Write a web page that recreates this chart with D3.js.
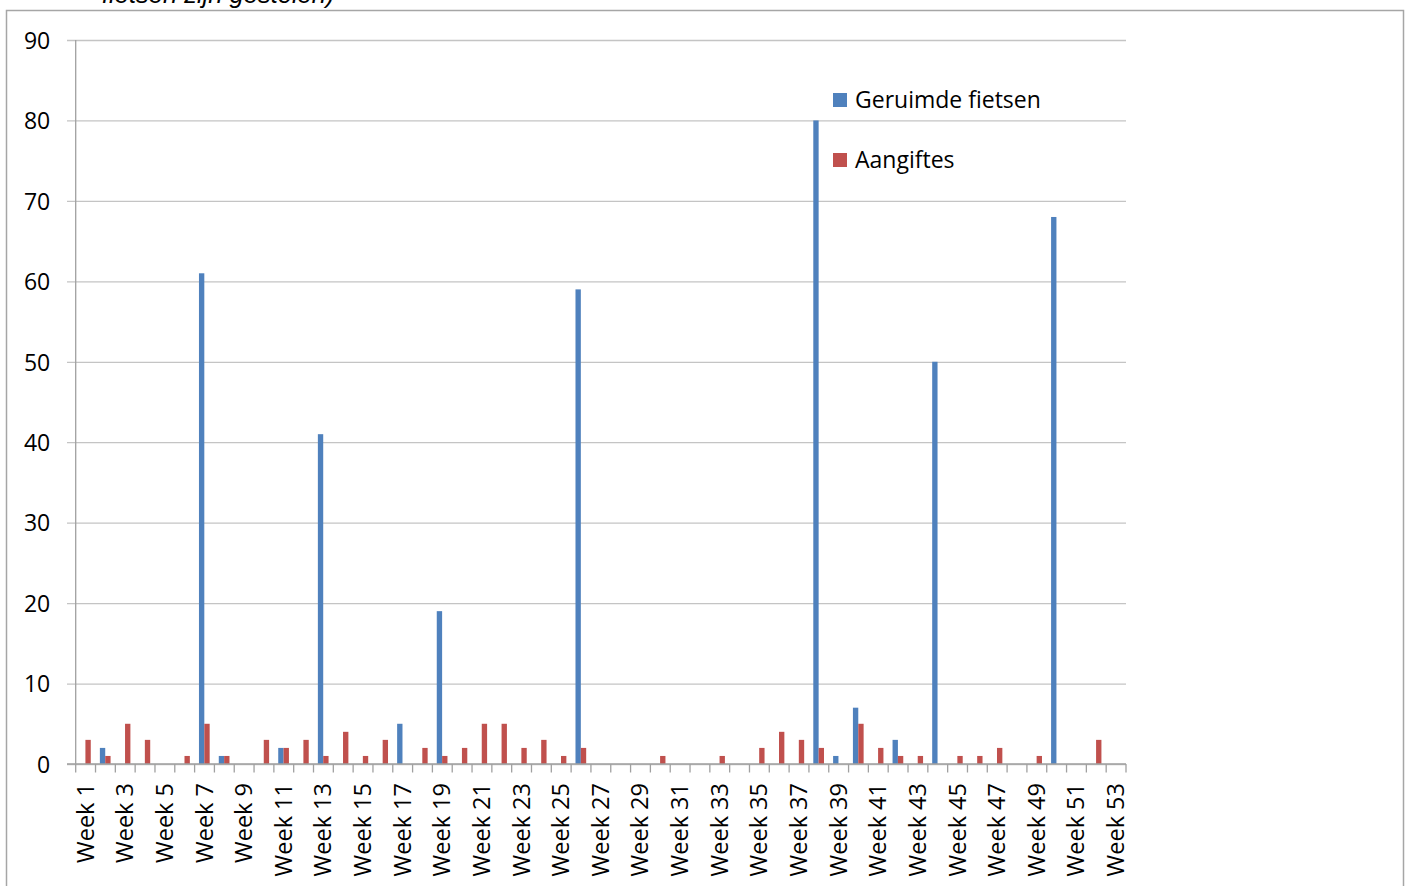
<!DOCTYPE html>
<html>
<head>
<meta charset="utf-8">
<script src="https://cdn.jsdelivr.net/npm/d3@7"></script>
<style>
  html, body { margin: 0; padding: 0; background: #fff; overflow: hidden; }
  text { font-family: "Open Sans", sans-serif; fill: #000; }
</style>
</head>
<body>
<svg id="chart"></svg>
<script>
// data (week 1..53)
const weeks = d3.range(1, 54).map((n) => "Week " + n);
const geruimd = [0, 2, 0, 0, 0, 0, 61, 1, 0, 0, 2, 0, 41, 0, 0, 0, 5, 0, 19, 0,
  0, 0, 0, 0, 0, 59, 0, 0, 0, 0, 0, 0, 0, 0, 0, 0, 0, 80, 1, 7,
  0, 3, 0, 50, 0, 0, 0, 0, 0, 68, 0, 0, 0];
const aangiftes = [3, 1, 5, 3, 0, 1, 5, 1, 0, 3, 2, 3, 1, 4, 1, 3, 0, 2, 1, 2,
  5, 5, 2, 3, 1, 2, 0, 0, 0, 1, 0, 0, 1, 0, 2, 4, 3, 2, 0, 5,
  2, 1, 1, 0, 1, 1, 2, 0, 1, 0, 0, 3, 0];
const seriesNames = ["Geruimde fietsen", "Aangiftes"];
const seriesColors = ["#4f81bd", "#c0504d"];
const yTicks = [0, 10, 20, 30, 40, 50, 60, 70, 80, 90];

const width = 1408;
const height = 886;
const plot = { left: 75.7, right: 1126, top: 40, bottom: 764 };

const svg = d3.select("#chart").attr("width", width).attr("height", height);

// outer chart border (bottom edge falls outside the picture)
svg.append("rect")
  .attr("x", 6.5)
  .attr("y", 10.5)
  .attr("width", 1397)
  .attr("height", 900)
  .attr("fill", "none")
  .attr("stroke", "#a6a6a6")
  .attr("stroke-width", 1.5);

// caption text that sits above the chart, mostly cut off
svg.append("text")
  .attr("x", 102)
  .attr("y", 3)
  .style("font-family", "'Liberation Sans', Arial, sans-serif")
  .style("font-style", "italic")
  .style("font-size", "25.5px")
  .text("fietsen zijn gestolen)");

const x0 = d3.scaleBand()
  .domain(weeks)
  .range([plot.left, plot.right])
  .padding(0);

const x1 = d3.scaleBand()
  .domain(seriesNames)
  .range([x0.bandwidth() * 0.22, x0.bandwidth() * 0.76]);

const y = d3.scaleLinear()
  .domain([0, 90])
  .range([plot.bottom, plot.top]);

// gridlines + y labels
const yAxis = d3.axisLeft(y)
  .tickValues(yTicks)
  .tickSize(-(plot.right - plot.left) - 0)
  .tickPadding(17)
  .tickFormat(d3.format("d"));

const gy = svg.append("g")
  .attr("transform", `translate(${plot.left},0)`)
  .call(yAxis);
gy.select(".domain").remove();
gy.selectAll(".tick line")
  .attr("x1", -8.7)
  .attr("stroke", "#c4c4c4")
  .attr("stroke-width", 1.3);
gy.selectAll(".tick text")
  .style("font-size", "23px")
  .attr("x", -25.5)
  .attr("dy", "0.36em");

// y axis line
svg.append("line")
  .attr("x1", plot.left).attr("x2", plot.left)
  .attr("y1", plot.top).attr("y2", plot.bottom)
  .attr("stroke", "#a0a0a0")
  .attr("stroke-width", 1.3);

// bars
const rows = weeks.map((w, i) => ({ week: w, values: [geruimd[i], aangiftes[i]] }));

svg.append("g")
  .selectAll("g")
  .data(rows)
  .join("g")
  .attr("transform", (d) => `translate(${x0(d.week)},0)`)
  .selectAll("rect")
  .data((d) => d.values.map((v, k) => ({ key: seriesNames[k], value: v, color: seriesColors[k] })))
  .join("rect")
  .attr("x", (d) => x1(d.key))
  .attr("width", x1.bandwidth())
  .attr("y", (d) => y(d.value))
  .attr("height", (d) => y(0) - y(d.value))
  .attr("fill", (d) => d.color);

// x axis line and ticks at category boundaries
svg.append("line")
  .attr("x1", plot.left - 8.7).attr("x2", plot.right)
  .attr("y1", plot.bottom).attr("y2", plot.bottom)
  .attr("stroke", "#a0a0a0")
  .attr("stroke-width", 1.3);

svg.append("g")
  .selectAll("line")
  .data(weeks.concat(["end"]))
  .join("line")
  .attr("x1", (d, i) => plot.left + i * x0.step())
  .attr("x2", (d, i) => plot.left + i * x0.step())
  .attr("y1", plot.bottom)
  .attr("y2", plot.bottom + 8.5)
  .attr("stroke", "#a0a0a0")
  .attr("stroke-width", 1.3);

// x labels, every other week, rotated
svg.append("g")
  .selectAll("text")
  .data(weeks.filter((w, i) => i % 2 === 0))
  .join("text")
  .attr("transform", (d) => `translate(${x0(d) + x0.bandwidth() / 2 + 8},783) rotate(-90)`)
  .attr("text-anchor", "end")
  .style("font-size", "23.5px")
  .text((d) => d);

// legend
const legend = svg.append("g");
const legendY = [100, 160];
seriesNames.forEach((name, k) => {
  legend.append("rect")
    .attr("x", 833)
    .attr("y", legendY[k] - 7)
    .attr("width", 14)
    .attr("height", 14)
    .attr("fill", seriesColors[k]);
  legend.append("text")
    .attr("x", 855)
    .attr("y", legendY[k] + 7.5)
    .style("font-size", "23px")
    .text(name);
});
</script>
</body>
</html>
